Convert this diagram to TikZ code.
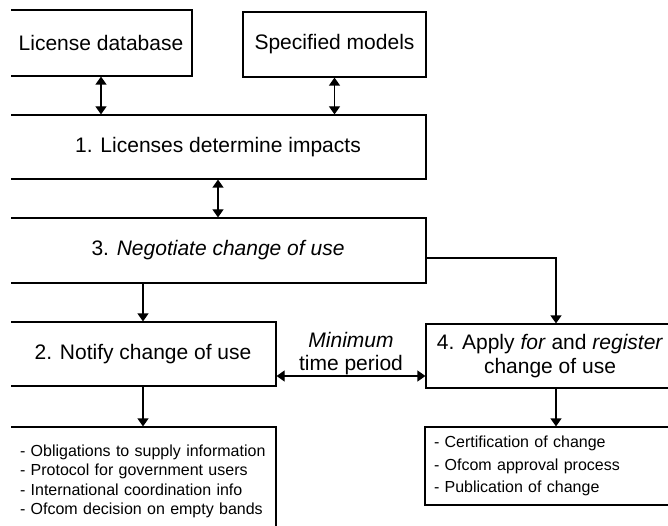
\documentclass[tikz,border=0pt]{standalone}
\usepackage{fontspec}
\setmainfont{Liberation Sans}
\usetikzlibrary{arrows.meta}

\begin{document}
\begin{tikzpicture}[x=1pt, y=-1pt,
  box/.style={draw, line width=1.2pt, inner sep=0pt, align=center, font=\fontsize{21}{24}\selectfont},
  listbox/.style={draw, line width=1.2pt, inner ysep=0pt, align=left},
  link/.style={line width=1.2pt, -{Triangle[width=11pt,length=8pt]}},
  both/.style={line width=1.2pt, {Triangle[width=11pt,length=8pt]}-{Triangle[width=11pt,length=8pt]}}]

% Page frame (the scan cuts the boxes at left, right and bottom)
\useasboundingbox (0,0) rectangle (668,526);
\clip (11,-2) rectangle (668,528);

% Sources
\node[box, minimum width=182, minimum height=66] (licdb) at (101,43) {License database};
\node[box, minimum width=183, minimum height=65] (models) at (334.5,44.5) {Specified models};

% Main steps
\node[box, minimum width=416, minimum height=64] (impacts) at (218,147) {1. Licenses determine impacts};
\node[box, minimum width=416, minimum height=65] (negotiate) at (218,250.5) {3. \textit{Negotiate change of use}};
\node[box, minimum width=266, minimum height=64] (notify) at (143,354) {2. Notify change of use};
\node[box, minimum width=248, minimum height=64] (apply) at (550,356) {4. Apply \textit{for} and \textit{register}\\change of use};

% Detail lists
\node[listbox, minimum height=109, inner xsep=10pt, text width=246pt,
      font=\fontsize{16}{19.3}\selectfont] (notifylist) at (143,481.5)
  {- Obligations to supply information\\
   - Protocol for government users\\
   - International coordination info\\
   - Ofcom decision on empty bands};
\node[listbox, minimum height=78, inner xsep=9pt, text width=231pt,
      font=\fontsize{16}{22.5}\selectfont] (applylist) at (549.5,466)
  {- Certification of change\\
   - Ofcom approval process\\
   - Publication of change};

% Two-way links
\draw[both] (licdb.south) -- (licdb.south |- impacts.north);
\draw[both] (models.south) -- (models.south |- impacts.north);
\draw[both] (impacts.south) -- (impacts.south |- negotiate.north);

% Flow downwards
\draw[link] (notify.north |- negotiate.south) -- (notify.north);
\draw[link] ([yshift=-7.5pt]negotiate.east) -| ([xshift=6pt]apply.north);
\draw[link] (notify.south) -- (notifylist.north);
\draw[link] ([xshift=6pt]apply.south) -- ([xshift=6pt]apply.south |- applylist.north);

% Minimum time period
\draw[both] ([yshift=-22pt]notify.east) -- ([yshift=-22pt]notify.east -| apply.west)
  node[midway, above, inner sep=0.5pt, align=center, font=\fontsize{21}{23}\selectfont]
  {\textit{Minimum}\\time period};

\end{tikzpicture}
\end{document}
